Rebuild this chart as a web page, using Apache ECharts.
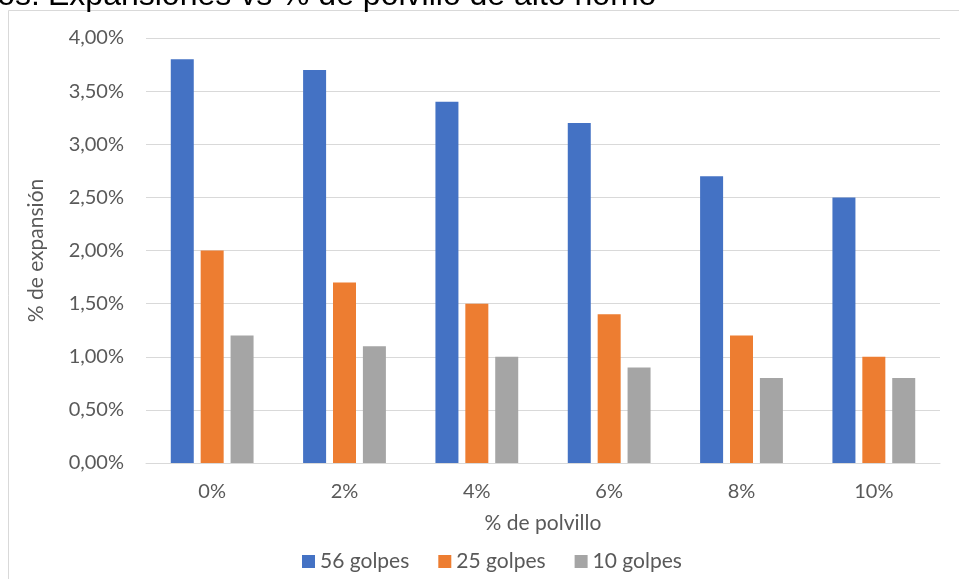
<!DOCTYPE html>
<html>
<head>
<meta charset="utf-8">
<script src="https://cdn.jsdelivr.net/npm/echarts@6/dist/echarts.min.js"></script>
<style>
  html, body { margin: 0; padding: 0; background: #ffffff; }
  #chart { width: 959px; height: 579px; }
</style>
</head>
<body>
<div id="chart"></div>
<script>
// Categories: percentage of blast-furnace dust added
const categories = ['0%', '2%', '4%', '6%', '8%', '10%'];
// Expansion (%) by compaction effort
const golpes56 = [3.8, 3.7, 3.4, 3.2, 2.7, 2.5];
const golpes25 = [2.0, 1.7, 1.5, 1.4, 1.2, 1.0];
const golpes10 = [1.2, 1.1, 1.0, 0.9, 0.8, 0.8];
const seriesNames = ['56 golpes', '25 golpes', '10 golpes'];
const seriesColors = ['#4472C4', '#ED7D31', '#A5A5A5'];

const FONT = 'Lato, "Open Sans", sans-serif';
const chart = echarts.init(document.getElementById('chart'), null, { renderer: 'canvas' });

const fmt = v => v.toFixed(2).replace('.', ',') + '%';

const makeSeries = (name, data, color) => ({
  name: name,
  type: 'bar',
  data: data,
  barWidth: 23,
  barGap: '30%',
  itemStyle: { color: color },
  emphasis: { disabled: true }
});

chart.setOption({
  animation: false,
  backgroundColor: '#ffffff',
  graphic: [
    {
      type: 'rect',
      shape: { x: 8.5, y: 10.5, width: 1000, height: 700 },
      style: { fill: 'none', stroke: '#d9d9d9', lineWidth: 1 },
      silent: true
    },
    {
      type: 'text',
      x: 40, y: 12,
      style: {
        text: 'Ensayos:',
        align: 'right', verticalAlign: 'bottom',
        font: '32px "Liberation Sans", Arial, sans-serif',
        fill: '#000000'
      }
    },
    {
      type: 'text',
      x: 48, y: 12,
      style: {
        text: 'Expansiones vs % de polvillo de alto horno',
        align: 'left', verticalAlign: 'bottom',
        font: '32px "Liberation Sans", Arial, sans-serif',
        fill: '#000000'
      }
    }
  ],
  grid: { left: 146, right: 19, top: 38, bottom: 116, containLabel: false },
  legend: {
    data: seriesNames,
    bottom: 2,
    left: 297,
    itemWidth: 13,
    itemHeight: 13,
    itemGap: 29,
    icon: 'rect',
    textStyle: { fontFamily: FONT, fontSize: 21, color: '#595959' }
  },
  xAxis: {
    type: 'category',
    data: categories,
    name: '% de polvillo',
    nameLocation: 'middle',
    nameGap: 50,
    nameTextStyle: { fontFamily: FONT, fontSize: 21, color: '#595959' },
    axisLine: { lineStyle: { color: '#d9d9d9', width: 1 } },
    axisTick: { show: false },
    axisLabel: { fontFamily: FONT, fontSize: 20, color: '#595959', margin: 19 }
  },
  yAxis: {
    type: 'value',
    min: 0,
    max: 4,
    interval: 0.5,
    name: '% de expansión',
    nameLocation: 'middle',
    nameGap: 99,
    nameTextStyle: { fontFamily: FONT, fontSize: 21, color: '#595959' },
    axisLine: { show: false },
    axisTick: { show: false },
    splitLine: { lineStyle: { color: '#d9d9d9', width: 1 } },
    axisLabel: { fontFamily: FONT, fontSize: 20, color: '#595959', margin: 22, formatter: fmt }
  },
  series: [
    makeSeries(seriesNames[0], golpes56, seriesColors[0]),
    makeSeries(seriesNames[1], golpes25, seriesColors[1]),
    makeSeries(seriesNames[2], golpes10, seriesColors[2])
  ]
});
</script>
</body>
</html>
